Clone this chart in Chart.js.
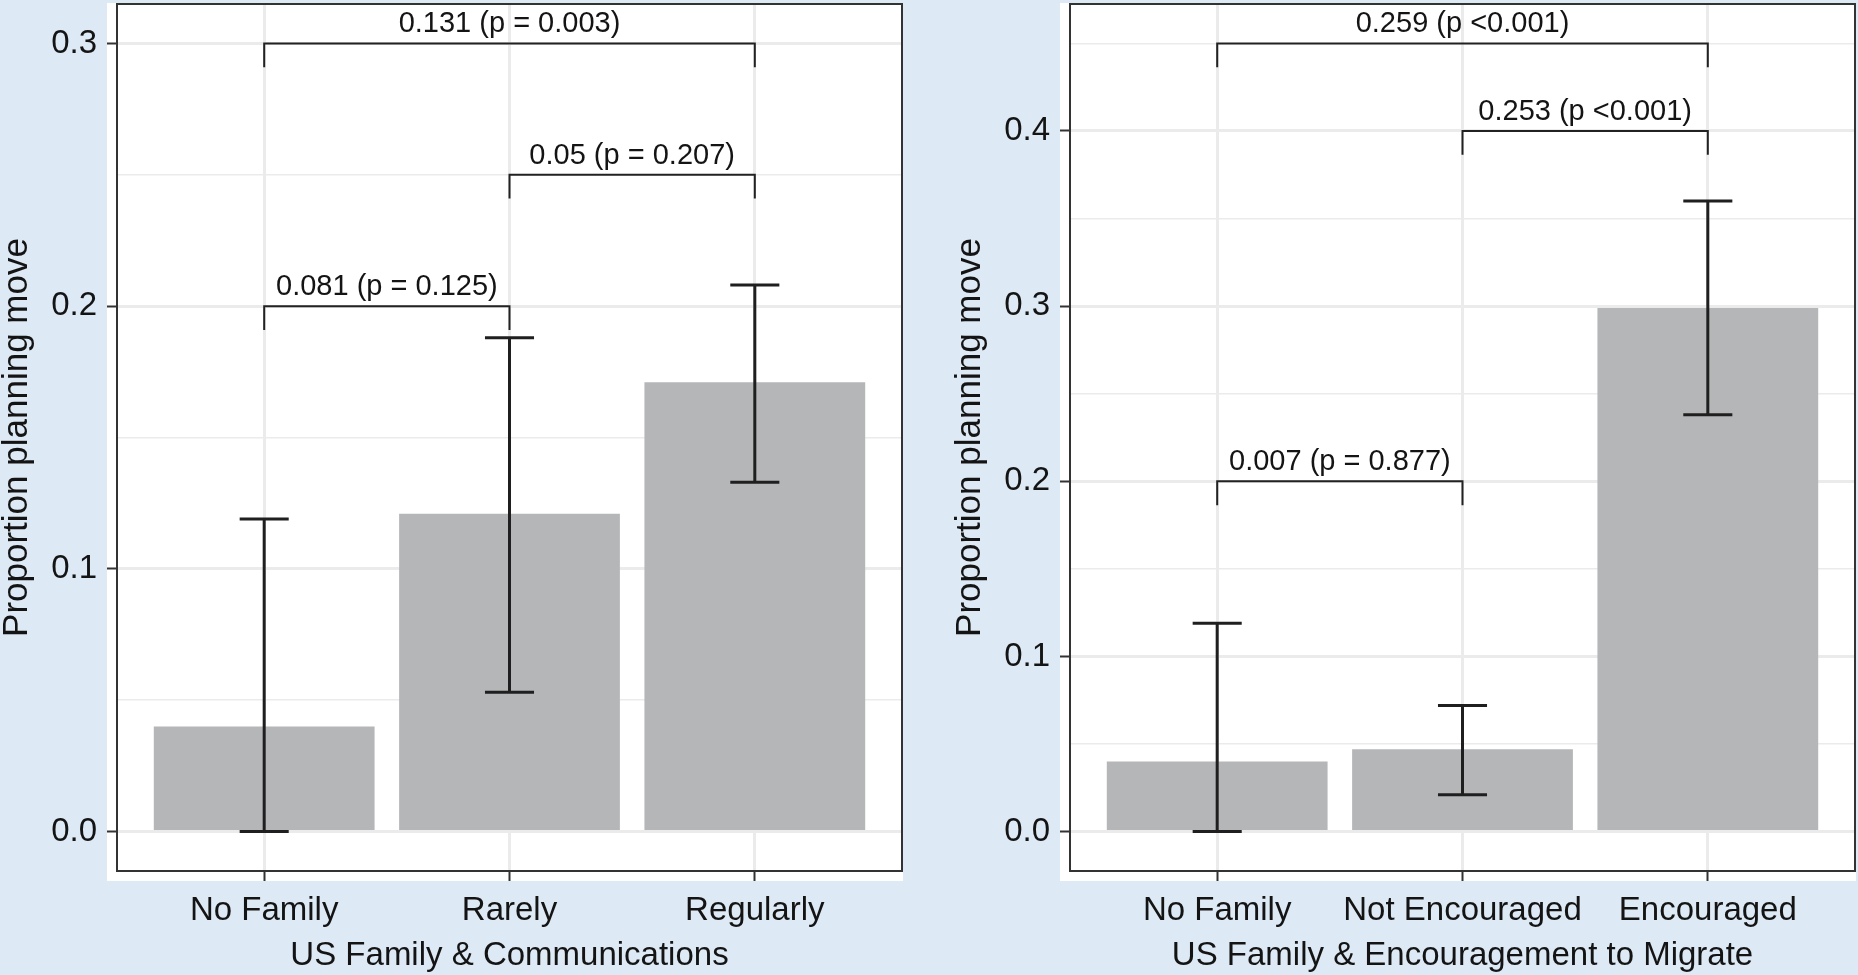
<!DOCTYPE html>
<html>
<head>
<meta charset="utf-8">
<script src="https://cdn.jsdelivr.net/npm/chart.js@4.4.1/dist/chart.umd.min.js"></script>
<style>
  html, body { margin: 0; padding: 0; background: #dde9f5; overflow: hidden; }
  #wrap { position: relative; width: 1858px; height: 975px; }
  canvas { position: absolute; top: 0; }
</style>
</head>
<body>
<div id="wrap">
  <canvas id="leftPanel" width="953" height="975" style="left:0px"></canvas>
  <canvas id="rightPanel" width="905" height="975" style="left:953px"></canvas>
</div>
<script>
// Left panel: US family & communications
var commCategories = ['No Family', 'Rarely', 'Regularly'];
var commMeans = [0.040, 0.121, 0.171];
var commLower = [0.000, 0.053, 0.133];
var commUpper = [0.119, 0.188, 0.208];
var commTicks = [0.0, 0.1, 0.2, 0.3];
var commBracketFrom = [0, 1, 0];
var commBracketTo = [1, 2, 2];
var commBracketY = [0.20, 0.25, 0.30];
var commBracketText = ['0.081 (p = 0.125)', '0.05 (p = 0.207)', '0.131 (p = 0.003)'];

// Right panel: US family & encouragement to migrate
var encCategories = ['No Family', 'Not Encouraged', 'Encouraged'];
var encMeans = [0.040, 0.047, 0.299];
var encLower = [0.000, 0.021, 0.238];
var encUpper = [0.119, 0.072, 0.360];
var encTicks = [0.0, 0.1, 0.2, 0.3, 0.4];
var encBracketFrom = [0, 1, 0];
var encBracketTo = [1, 2, 2];
var encBracketY = [0.20, 0.40, 0.45];
var encBracketText = ['0.007 (p = 0.877)', '0.253 (p <0.001)', '0.259 (p <0.001)'];

var FONT = "'Liberation Sans', Arial, Helvetica, sans-serif";
var INK = '#141414';

// background, error bars, significance brackets and panel border
var panelPlugin = {
  id: 'panel',
  beforeDraw: function(chart) {
    var ctx = chart.ctx, a = chart.chartArea;
    ctx.save();
    ctx.fillStyle = '#dde9f5';
    ctx.fillRect(0, 0, chart.width, chart.height);
    ctx.fillStyle = '#ffffff';
    ctx.fillRect(a.left - 10, a.top - 1, a.right - a.left + 11, a.bottom - a.top + 11);
    ctx.restore();
  },
  afterDatasetsDraw: function(chart, args, opts) {
    var ctx = chart.ctx, xs = chart.scales.x, ys = chart.scales.y;
    var cap = xs.getPixelForValue(0.1) - xs.getPixelForValue(0);
    ctx.save();
    ctx.strokeStyle = '#1f1f1f';
    ctx.lineWidth = 3;
    opts.lower.forEach(function(lo, i) {
      var x = xs.getPixelForValue(i);
      var y1 = ys.getPixelForValue(lo), y2 = ys.getPixelForValue(opts.upper[i]);
      ctx.beginPath();
      ctx.moveTo(x, y1); ctx.lineTo(x, y2);
      ctx.moveTo(x - cap, y1); ctx.lineTo(x + cap, y1);
      ctx.moveTo(x - cap, y2); ctx.lineTo(x + cap, y2);
      ctx.stroke();
    });

    var tip = (chart.chartArea.bottom - chart.chartArea.top) * 0.0275;
    ctx.lineWidth = 2;
    ctx.strokeStyle = '#222';
    ctx.fillStyle = INK;
    ctx.font = '29px ' + FONT;
    ctx.textAlign = 'center';
    ctx.textBaseline = 'alphabetic';
    opts.from.forEach(function(f, i) {
      var x1 = xs.getPixelForValue(f), x2 = xs.getPixelForValue(opts.to[i]);
      var y = ys.getPixelForValue(opts.y[i]);
      ctx.beginPath();
      ctx.moveTo(x1, y + tip); ctx.lineTo(x1, y); ctx.lineTo(x2, y); ctx.lineTo(x2, y + tip);
      ctx.stroke();
      ctx.fillText(opts.text[i], (x1 + x2) / 2, y - 11);
    });
    ctx.restore();
  },
  afterDraw: function(chart) {
    var ctx = chart.ctx, a = chart.chartArea;
    ctx.save();
    ctx.strokeStyle = '#333';
    ctx.lineWidth = 2;
    ctx.strokeRect(a.left, a.top, a.right - a.left, a.bottom - a.top);
    ctx.restore();
  }
};

function noPad(s) {
  s.paddingTop = 0; s.paddingBottom = 0; s.paddingLeft = 0; s.paddingRight = 0;
}

function makePanel(id, cats, means, lower, upper, ticks, yMax, yMin, xTitle, bFrom, bTo, bY, bText, rightPad) {
  var grid = [];
  ticks.forEach(function(t) {
    grid.push(t);
    if (t + 0.05 < yMax) grid.push(t + 0.05);
  });
  var isMajor = function(v) {
    return ticks.some(function(t) { return Math.abs(t - v) < 1e-9; });
  };

  new Chart(document.getElementById(id), {
    type: 'bar',
    data: {
      datasets: [{
        data: means.map(function(v, i) { return {x: i, y: v}; }),
        backgroundColor: '#b5b6b8',
        borderWidth: 0,
        categoryPercentage: 0.9,
        barPercentage: 1.0
      }]
    },
    options: {
      responsive: false,
      devicePixelRatio: 1,
      animation: false,
      layout: {padding: {top: 4, right: rightPad, bottom: 0, left: 0}},
      plugins: {
        legend: {display: false},
        tooltip: {enabled: false},
        panel: {lower: lower, upper: upper, from: bFrom, to: bTo, y: bY, text: bText}
      },
      scales: {
        x: {
          type: 'linear',
          min: -0.6,
          max: cats.length - 0.4,
          bounds: 'data',
          offset: false,
          afterBuildTicks: function(s) { s.ticks = cats.map(function(c, i) { return {value: i}; }); },
          afterFit: function(s) { s.height = 104; noPad(s); },
          grid: {offset: false, color: '#ebebeb', lineWidth: 3, tickColor: '#333', tickLength: 10, tickWidth: 2},
          border: {display: false},
          ticks: {
            callback: function(v) { return cats[v]; },
            font: {family: FONT, size: 33, lineHeight: 1.2},
            color: INK,
            padding: 10,
            maxRotation: 0,
            autoSkip: false
          },
          title: {
            display: true,
            text: xTitle,
            font: {family: FONT, size: 33, lineHeight: 1},
            color: INK,
            padding: {top: 0, bottom: 3}
          }
        },
        y: {
          min: yMin,
          max: yMax,
          bounds: 'data',
          afterBuildTicks: function(s) { s.ticks = grid.map(function(v) { return {value: v}; }); },
          afterFit: function(s) { s.width = 117; noPad(s); },
          grid: {
            color: '#ebebeb',
            lineWidth: function(c) { return c.tick && !isMajor(c.tick.value) ? 1.6 : 3; },
            tickColor: function(c) { return c.tick && !isMajor(c.tick.value) ? 'rgba(0,0,0,0)' : '#333'; },
            tickLength: 10,
            tickWidth: 2
          },
          border: {display: false},
          ticks: {
            callback: function(v) { return isMajor(v) ? v.toFixed(1) : ''; },
            font: {family: FONT, size: 33},
            color: INK,
            padding: 10
          },
          title: {
            display: true,
            text: 'Proportion planning move',
            font: {family: FONT, size: 35, lineHeight: 1},
            color: INK,
            padding: {top: 0, bottom: 0}
          }
        }
      }
    },
    plugins: [panelPlugin]
  });
}

makePanel('leftPanel', commCategories, commMeans, commLower, commUpper, commTicks,
  0.315, -0.015, 'US Family & Communications',
  commBracketFrom, commBracketTo, commBracketY, commBracketText, 51);

makePanel('rightPanel', encCategories, encMeans, encLower, encUpper, encTicks,
  0.4725, -0.0225, 'US Family & Encouragement to Migrate',
  encBracketFrom, encBracketTo, encBracketY, encBracketText, 3);
</script>
</body>
</html>
